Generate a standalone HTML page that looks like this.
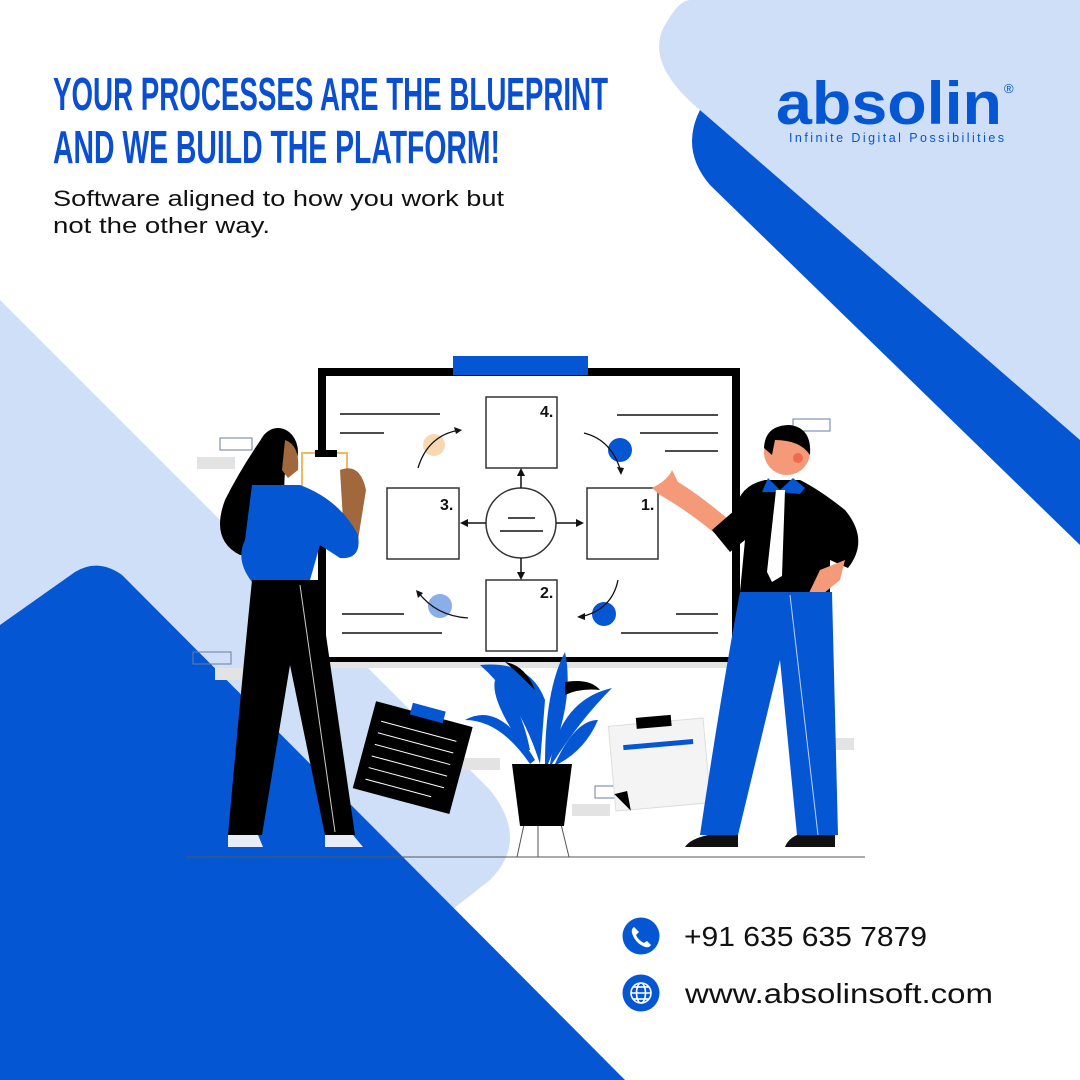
<!DOCTYPE html>
<html><head><meta charset="utf-8"><style>
html,body{margin:0;padding:0;background:#fff}
svg{display:block}
</style></head><body>
<svg width="1080" height="1080" viewBox="0 0 1080 1080" xmlns="http://www.w3.org/2000/svg">
<rect width="1080" height="1080" fill="#fff"/>
<path d="M700,110 Q680,150 710,185 L1080,545 L1080,420 Z" fill="#0556d3"/>
<path d="M690,0 L1080,0 L1080,440 L700,110 Q640,60 668,20 Q680,0 690,0 Z" fill="#cfdff8"/>
<path d="M0,300 L490,790 Q530,840 490,880 L420,935 L0,935 Z" fill="#cfdff8"/>
<path d="M0,625 L75,572 Q98,558 122,575 L625,1080 L0,1080 Z" fill="#0556d3"/>

<g font-family="Liberation Sans, sans-serif" font-weight="bold" fill="#0a4fd1">
<text x="53" y="110" font-size="46" textLength="555" lengthAdjust="spacingAndGlyphs">YOUR PROCESSES ARE THE BLUEPRINT</text>
<text x="53" y="163" font-size="46" textLength="447" lengthAdjust="spacingAndGlyphs">AND WE BUILD THE PLATFORM!</text>
</g>
<g font-family="Liberation Sans, sans-serif" font-size="22" fill="#111">
<text x="53" y="206" textLength="451" lengthAdjust="spacingAndGlyphs">Software aligned to how you work but</text>
<text x="53" y="233" textLength="217" lengthAdjust="spacingAndGlyphs">not the other way.</text>
</g>
<text x="776" y="124" font-family="Liberation Sans, sans-serif" font-weight="bold" font-size="60" fill="#0556d3" textLength="226" lengthAdjust="spacingAndGlyphs">absolin</text>
<text x="1004" y="93" font-family="Liberation Sans, sans-serif" font-size="13" fill="#0556d3">®</text>
<text x="789" y="142" font-family="Liberation Sans, sans-serif" font-size="12.5" fill="#0556d3" textLength="215" lengthAdjust="spacing">Infinite Digital Possibilities</text>

<g fill="#e3e3e3"><rect x="197" y="457" width="38" height="12"/><rect x="215" y="668" width="40" height="12"/><rect x="462" y="758" width="38" height="12"/><rect x="572" y="804" width="38" height="12"/><rect x="816" y="738" width="38" height="12"/></g>
<g fill="none" stroke="#6b7da0" stroke-width="1"><rect x="220" y="438" width="32" height="12"/><rect x="193" y="652" width="38" height="12"/><rect x="793" y="419" width="37" height="12"/><rect x="595" y="786" width="25" height="12"/><rect x="815" y="719" width="16" height="12"/></g>

<rect x="322" y="372" width="414" height="289" fill="#fff" stroke="#000" stroke-width="8"/>
<rect x="326" y="662" width="410" height="6" fill="#e3e3e3"/>
<rect x="453" y="356" width="135" height="19" fill="#0556d3"/>
<g fill="#fff" stroke="#333" stroke-width="1.5">
<rect x="486" y="397" width="71" height="71"/><rect x="387" y="488" width="72" height="71"/>
<rect x="587" y="488" width="71" height="71"/><rect x="486" y="580" width="71" height="71"/>
<ellipse cx="521" cy="523" rx="35" ry="35"/>
</g>
<g font-family="Liberation Sans, sans-serif" font-weight="bold" font-size="16" fill="#111">
<text x="540" y="417">4.</text><text x="440" y="510">3.</text><text x="641" y="510">1.</text><text x="540" y="598">2.</text>
</g>
<g stroke="#111" stroke-width="1.5" fill="none">
<line x1="508" y1="518" x2="535" y2="518"/><line x1="500" y1="531" x2="543" y2="531"/>
<line x1="521" y1="488" x2="521" y2="472"/><line x1="521" y1="558" x2="521" y2="575"/>
<line x1="486" y1="523" x2="464" y2="523"/><line x1="556" y1="523" x2="580" y2="523"/>
<line x1="340" y1="414" x2="440" y2="414"/><line x1="340" y1="433" x2="384" y2="433"/>
<line x1="617" y1="415" x2="718" y2="415"/><line x1="640" y1="433" x2="718" y2="433"/><line x1="665" y1="451" x2="718" y2="451"/>
<line x1="342" y1="614" x2="404" y2="614"/><line x1="342" y1="633" x2="442" y2="633"/>
<line x1="676" y1="614" x2="718" y2="614"/><line x1="621" y1="633" x2="718" y2="633"/>
</g>
<g fill="#111"><path d="M521,468 l-4,8 h8z"/><path d="M521,580 l-4,-8 h8z"/><path d="M460,523 l8,-4 v8z"/><path d="M584,523 l-8,-4 v8z"/></g>
<circle cx="434" cy="445" r="11" fill="#f8d8b0"/>
<circle cx="620" cy="450" r="12" fill="#0556d3"/>
<circle cx="440" cy="606" r="12" fill="#8aaee8"/>
<circle cx="604" cy="614" r="12" fill="#0556d3"/>
<g stroke="#111" stroke-width="1.3" fill="none">
<path d="M418,468 Q428,435 460,430"/><path d="M584,433 Q612,440 621,472"/>
<path d="M468,618 Q436,616 418,592"/><path d="M618,580 Q612,610 580,617"/>
</g>
<g fill="#111"><path d="M462,430 l-8,-3 2,7z"/><path d="M621,475 l-4,-8 7,1z"/><path d="M416,590 l2,8 5,-5z"/><path d="M577,617 l8,-4 0,7z"/></g>

<line x1="186" y1="857" x2="865" y2="857" stroke="#555" stroke-width="1"/>

<g transform="rotate(15 410 760)"><rect x="362" y="712" width="100" height="90" fill="#000"/><rect x="398" y="704" width="34" height="12" fill="#0556d3"/>
<g stroke="#fff" stroke-width="1"><line x1="372" y1="730" x2="450" y2="730"/><line x1="372" y1="742" x2="450" y2="742"/><line x1="372" y1="754" x2="450" y2="754"/><line x1="372" y1="766" x2="450" y2="766"/><line x1="372" y1="778" x2="450" y2="778"/><line x1="372" y1="790" x2="440" y2="790"/></g></g>
<g transform="rotate(-5 660 765)"><rect x="612" y="722" width="95" height="85" fill="#f4f4f4" stroke="#ddd"/><rect x="640" y="716" width="35" height="11" fill="#000"/><rect x="625" y="742" width="70" height="5" fill="#0556d3"/><path d="M612,790 l15,18 -2,-20z" fill="#000"/></g>
<g stroke="#555" stroke-width="1"><line x1="525" y1="820" x2="517" y2="857"/><line x1="538" y1="820" x2="538" y2="857"/><line x1="560" y1="820" x2="569" y2="857"/></g>
<path d="M512,764 h60 l-8,62 h-44z" fill="#000"/>
<g fill="#0556d3">
<path d="M540,764 Q520,700 480,665 Q530,660 545,700z"/><path d="M545,764 Q545,690 565,652 Q575,700 548,764z"/>
<path d="M550,764 Q560,700 612,688 Q580,720 552,764z"/><path d="M530,764 Q500,720 465,720 Q500,700 535,760z"/>
<path d="M555,764 Q575,720 598,720 Q585,750 558,764z"/><path d="M525,750 Q490,700 495,680 Q520,700 530,750z"/>
</g>
<g fill="#000"><path d="M505,662 Q525,665 535,690 Q515,670 505,662z"/><path d="M565,682 Q590,678 600,690 Q580,688 565,695z"/></g>

<path d="M262,438 Q240,470 225,500 Q210,540 240,555 Q285,560 285,520 Q282,470 290,440z" fill="#000"/>
<ellipse cx="278" cy="452" rx="20" ry="24" fill="#000"/>
<path d="M285,440 Q300,445 298,470 L288,478 L282,470z" fill="#a0683c"/>
<rect x="302" y="453" width="45" height="78" fill="#fff" stroke="#f0b860" stroke-width="2"/>
<rect x="315" y="450" width="22" height="7" fill="#000"/>
<path d="M340,470 Q360,462 366,490 L358,540 L343,520z" fill="#a0683c"/>
<path d="M252,485 L300,485 Q340,500 358,535 Q362,560 340,558 L320,545 L310,580 L252,582 Q235,560 245,540z" fill="#0556d3"/>
<path d="M252,580 L318,580 L355,835 L325,835 L290,665 L262,835 L228,835 Q240,700 252,580z" fill="#000"/>
<line x1="300" y1="585" x2="335" y2="832" stroke="#ccc" stroke-width="1"/>
<path d="M228,835 h30 l5,12 h-35z M325,835 h28 l10,12 h-38z" fill="#e8ecf4"/>

<circle cx="787" cy="452" r="23" fill="#f49a78"/>
<path d="M764,448 Q765,425 790,425 Q812,428 810,455 Q800,440 775,440 L772,455z" fill="#000"/>
<circle cx="798" cy="458" r="5" fill="#f06a50"/>
<path d="M652,488 Q668,480 672,470 L678,482 Q700,495 735,525 L728,545 Q695,515 660,495z" fill="#f49a78"/>
<path d="M765,480 Q740,485 735,510 L712,530 L730,552 L745,540 L740,592 L830,592 L830,560 L848,568 Q870,540 845,510 Q820,490 800,480z" fill="#000"/>
<path d="M768,478 L780,490 L793,478 L805,488 L800,494 L780,492 L762,492z" fill="#0556d3"/>
<path d="M776,490 L785,490 L782,576 L772,582 L767,572z" fill="#fff"/>
<path d="M820,570 L845,560 L840,580 L818,598 L808,595z" fill="#f49a78"/>
<path d="M740,592 L832,592 L838,835 L797,835 L780,660 L738,835 L700,835 Q720,700 740,592z" fill="#0556d3"/>
<line x1="790" y1="595" x2="818" y2="835" stroke="#bcd3f7" stroke-width="1"/>
<path d="M708,835 h30 v12 h-53 q5,-8 23,-12z M797,835 h38 v12 h-50 q3,-8 12,-12z" fill="#111"/>

<circle cx="641" cy="936" r="18.5" fill="#0556d3"/>
<path d="M634,927 q-3,2 -2,6 q3,10 13,14 q4,1 6,-2 l-4,-4 q-2,1 -3,2 q-6,-3 -8,-8 q1,-1 3,-3z" fill="#fff"/>
<text x="684" y="946" font-family="Liberation Sans, sans-serif" font-size="28" fill="#111" textLength="243" lengthAdjust="spacingAndGlyphs">+91 635 635 7879</text>
<circle cx="641" cy="993" r="18.5" fill="#0556d3"/>
<g fill="none" stroke="#fff" stroke-width="1.6"><circle cx="641" cy="993" r="10"/><ellipse cx="641" cy="993" rx="4.5" ry="10"/><line x1="631" y1="993" x2="651" y2="993"/><line x1="633" y1="987" x2="649" y2="987"/><line x1="633" y1="999" x2="649" y2="999"/></g>
<text x="685" y="1003" font-family="Liberation Sans, sans-serif" font-size="28" fill="#111" textLength="308" lengthAdjust="spacingAndGlyphs">www.absolinsoft.com</text>
</svg>
</body></html>
